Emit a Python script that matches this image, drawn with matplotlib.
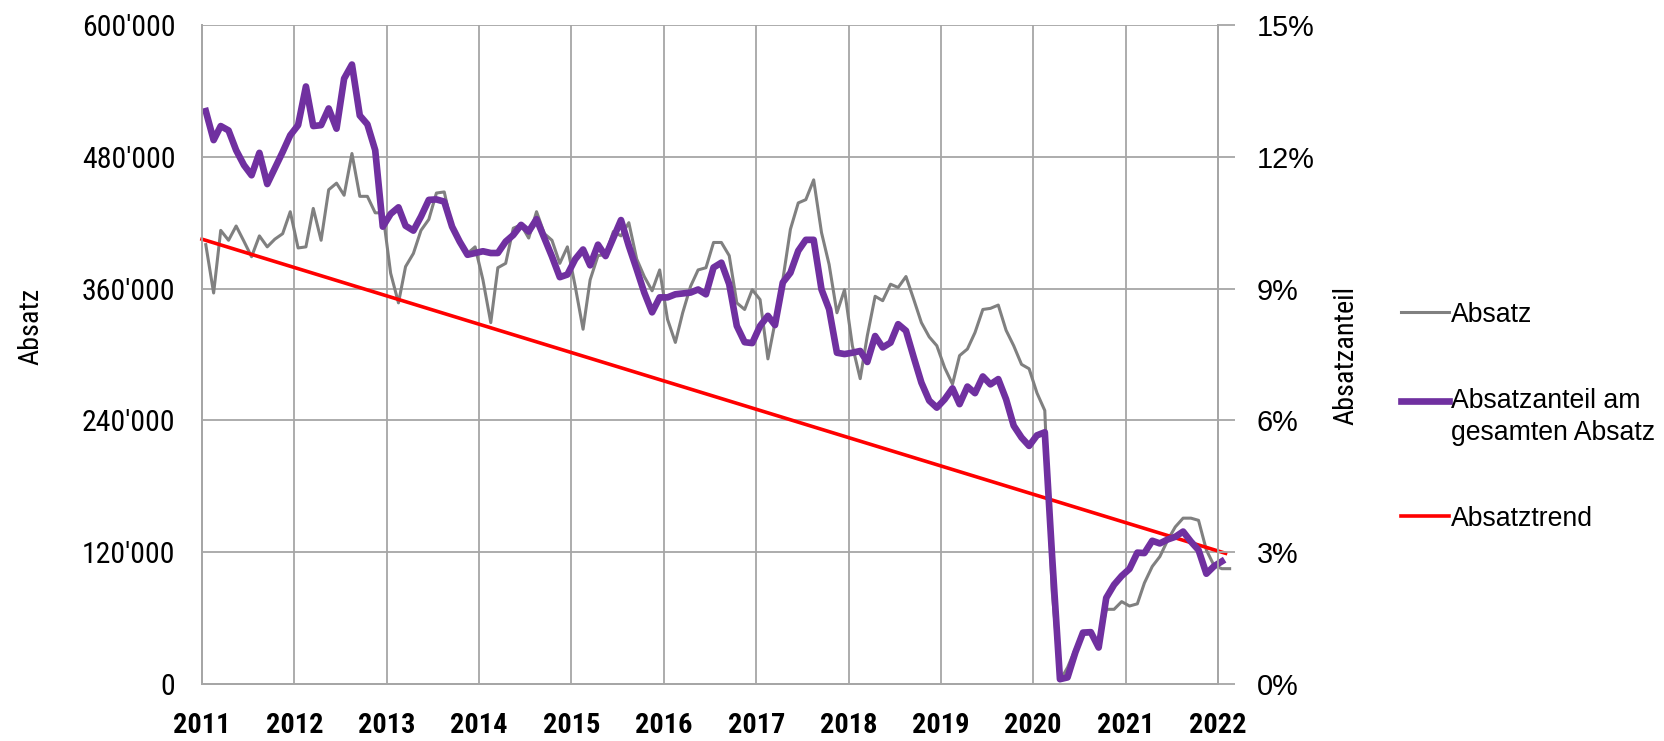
import pandas as pd
import matplotlib
matplotlib.use("Agg")
import matplotlib.pyplot as plt
import matplotlib.dates as mdates
from matplotlib import font_manager
from matplotlib.font_manager import FontProperties
from matplotlib.ticker import FuncFormatter, FixedLocator


# monthly values, Jan 2011 ...
# Absatz (units), Jan 2011 - Feb 2022
absatz_k = [
    400, 356, 413, 404, 417, 403, 389, 408, 398, 405, 410, 430,
    397, 398, 433, 404, 450, 456, 445, 483, 444, 444, 429, 429,
    374, 347, 380, 392, 413, 423, 447, 448, 416, 401, 392, 398,
    368, 329, 379, 383, 415, 418, 406, 430, 410, 404, 383, 398,
    362, 323, 368, 390, 391, 412, 408, 420, 387, 371, 358, 377,
    332, 311, 338, 362, 377, 379, 402, 402, 390, 347, 341, 359,
    350, 296, 329, 368, 414, 438, 441, 459, 411, 382, 338, 359,
    308, 278, 317, 353, 349, 364, 361, 371, 350, 329, 316, 308,
    288, 273, 299, 305, 320, 341, 342, 345, 322, 308, 291, 287,
    265, 249, 85, 3, 15, 32, 45, 46, 35, 68, 68, 75,
    71, 73, 92, 107, 116, 131, 143, 151, 151, 149, 122, 108,
    105, 105,
]

# Absatzanteil am gesamten Absatz (%), Jan 2011 - Jan 2022
anteil_pct = [
    13.04, 12.38, 12.70, 12.60, 12.15, 11.81, 11.58, 12.09, 11.38, 11.74, 12.11, 12.49,
    12.72, 13.60, 12.70, 12.72, 13.10, 12.64, 13.78, 14.10, 12.94, 12.74, 12.15, 10.41,
    10.70, 10.85, 10.43, 10.32, 10.64, 11.02, 11.03, 10.98, 10.41, 10.07, 9.77, 9.81,
    9.85, 9.81, 9.81, 10.07, 10.22, 10.45, 10.30, 10.58, 10.15, 9.73, 9.26, 9.32,
    9.67, 9.89, 9.53, 10.00, 9.74, 10.16, 10.56, 9.97, 9.44, 8.91, 8.46, 8.80,
    8.80, 8.87, 8.89, 8.91, 8.98, 8.87, 9.48, 9.59, 9.10, 8.15, 7.78, 7.76,
    8.15, 8.38, 8.17, 9.14, 9.36, 9.86, 10.11, 10.11, 8.98, 8.53, 7.54, 7.51,
    7.54, 7.58, 7.33, 7.92, 7.66, 7.77, 8.19, 8.04, 7.43, 6.86, 6.45, 6.29,
    6.48, 6.73, 6.37, 6.77, 6.62, 7.00, 6.82, 6.94, 6.48, 5.88, 5.61, 5.42,
    5.66, 5.73, 2.90, 0.11, 0.15, 0.72, 1.17, 1.18, 0.83, 1.96, 2.26, 2.46,
    2.62, 2.99, 2.98, 3.26, 3.20, 3.29, 3.35, 3.47, 3.24, 3.05, 2.51, 2.68,
    2.79,
]

# linear trend of Absatz: value at first and last month
trend_k = [405, 119]

left_ticks = [0, 120000, 240000, 360000, 480000, 600000]
right_ticks = [0, 3, 6, 9, 12, 15]

GREY = "#808080"
PURPLE = "#7030A0"
RED = "#FF0000"
GRID = "#A6A6A6"
REGULAR = "Liberation Sans"


# look for a condensed sans (the original uses Arial Narrow)
def pick_narrow():
    fl = font_manager.fontManager.ttflist
    names = {f.name for f in fl}
    for want in ["Liberation Sans Narrow", "Arial Narrow", "Roboto Condensed",
                 "Noto Sans Condensed", "Open Sans Condensed", "DejaVu Sans Condensed"]:
        if want in names:
            return {"family": want}
    for f in fl:
        if f.name in ("Noto Sans", "DejaVu Sans", "Roboto", "Open Sans") and \
                str(f.stretch) in ("condensed", "semi-condensed"):
            return {"family": f.name, "stretch": f.stretch}
    return {"family": REGULAR}


NARROW = pick_narrow()

# dates (middle of each month)
start = pd.Timestamp("2011-01-01")
absatz_dates = pd.date_range(start, periods=len(absatz_k), freq="MS") + pd.Timedelta(days=15)
anteil_dates = pd.date_range(start, periods=len(anteil_pct), freq="MS") + pd.Timedelta(days=15)
trend_dates = [anteil_dates[0] - pd.Timedelta(days=15), anteil_dates[-1] + pd.Timedelta(days=15)]

absatz = [v * 1000 for v in absatz_k]
trend = [v * 1000 for v in trend_k]

fig = plt.figure(figsize=(16.65, 7.41), dpi=100)
renderer = fig.canvas.get_renderer()


# font size so that a sample string gets the width (px) it has in the reference
def fit(sample, target_px, **props):
    fp = FontProperties(size=20, **props)
    t = fig.text(0, 0, sample, fontproperties=fp)
    w = t.get_window_extent(renderer).width
    t.remove()
    return 20 * target_px / w


size_left = fit("480'000", 94, **NARROW)
size_year = fit("2011", 57, weight="bold", **NARROW)
size_label = fit("Absatzanteil", 138, **NARROW)
size_right = fit("15%", 58, family=REGULAR)
size_legend = fit("Absatzanteil am", 189, family=REGULAR)

ax = fig.add_axes([202 / 1665, 1 - 684 / 741, 1016 / 1665, 659 / 741])
ax2 = ax.twinx()

l1, = ax.plot(absatz_dates, absatz, color=GREY, lw=2.2, label="Absatz", zorder=3, clip_on=False)
l3, = ax.plot(trend_dates, trend, color=RED, lw=2.6, label="Absatztrend", zorder=4, clip_on=False)
l2, = ax2.plot(anteil_dates, anteil_pct, color=PURPLE, lw=4.8, label="Absatzanteil am\ngesamten Absatz",
               clip_on=False)

ax.set_xlim(pd.Timestamp("2011-01-01"), pd.Timestamp("2022-01-01"))
ax.set_ylim(0, 600000)
ax2.set_ylim(0, 15)

ax.xaxis.set_major_locator(mdates.YearLocator())
ax.xaxis.set_major_formatter(mdates.DateFormatter("%Y"))
ax.yaxis.set_major_locator(FixedLocator(left_ticks))
ax.yaxis.set_major_formatter(FuncFormatter(lambda v, p: f"{int(v):,}".replace(",", "'")))
ax2.yaxis.set_major_locator(FixedLocator(right_ticks))
ax2.yaxis.set_major_formatter(FuncFormatter(lambda v, p: f"{int(v)}%"))

ax.grid(True, color=GRID, lw=1.3)
ax.set_axisbelow(True)
for a in (ax, ax2):
    for s in a.spines.values():
        s.set_color(GRID)
        s.set_linewidth(1.3)
    a.spines["top"].set_visible(False)

ax.tick_params(axis="y", length=0, pad=19)
ax.tick_params(axis="x", length=0, pad=20)
ax2.tick_params(axis="y", length=12, width=1.3, color=GRID, pad=16)
for t in ax.get_yticklabels():
    t.set_fontproperties(FontProperties(size=size_left, **NARROW))
for t in ax.get_xticklabels():
    t.set_fontproperties(FontProperties(size=size_year, weight="bold", **NARROW))
for t in ax2.get_yticklabels():
    t.set_fontproperties(FontProperties(size=size_right, family=REGULAR))

ax.set_ylabel("Absatz", fontproperties=FontProperties(size=size_label, **NARROW))
ax.yaxis.set_label_coords(-0.155, 0.543)
ax2.set_ylabel("Absatzanteil", fontproperties=FontProperties(size=size_label, **NARROW), rotation=90)
ax2.yaxis.set_label_coords(1.113, 0.498)

leg = fig.legend(handles=[l1, l2, l3], loc="upper left", bbox_to_anchor=(1390 / 1665, 1 - 291 / 741),
                 frameon=False, prop={"family": REGULAR, "size": size_legend},
                 handlelength=1.8, handletextpad=0.1, labelspacing=2.25, borderaxespad=0)
for t in leg.get_texts():
    t.set_linespacing(1.3)
# purple key sits on the first line of its two-line label
h = leg.legend_handles[1]
h.set_ydata([y + 12 for y in h.get_ydata()])

fig.savefig("out.png", dpi=100)
